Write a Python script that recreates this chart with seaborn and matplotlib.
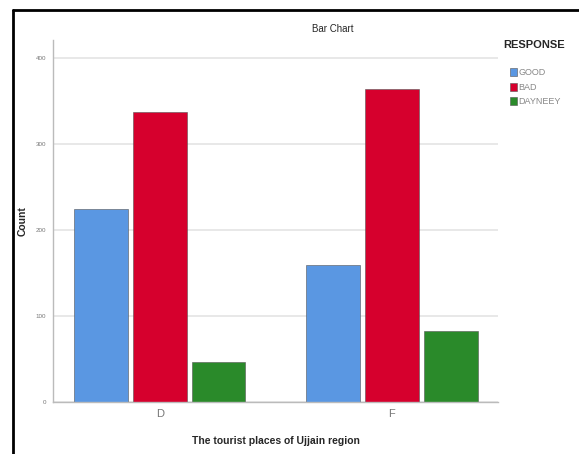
import numpy as np
import pandas as pd
import matplotlib.pyplot as plt
import seaborn as sns
from matplotlib.patches import Patch
from matplotlib.lines import Line2D

# ========================
# Data
# ========================
places = ["D", "F"]
responses = ["GOOD", "BAD", "DAYNEEY"]
good_counts = [224, 159]
bad_counts = [337, 364]
dayneey_counts = [46, 83]
y_ticks = [0, 100, 200, 300, 400]

colors = ["#5A97E2", "#D6002D", "#2A8A2A"]

df = pd.DataFrame({
    "place": places * 3,
    "RESPONSE": [r for r in responses for _ in places],
    "count": good_counts + bad_counts + dayneey_counts,
})

sns.set_theme(style="white")
plt.rcParams["font.family"] = ["Liberation Sans", "DejaVu Sans"]

fig = plt.figure(figsize=(5.79, 4.54), dpi=100)
ax = fig.add_axes([0.0915, 0.1145, 0.7685, 0.7975])

sns.barplot(data=df, x="place", y="count", hue="RESPONSE", order=places,
            hue_order=responses, palette=colors, saturation=1, width=0.76,
            gap=0.085, edgecolor="#555555", linewidth=0.4, legend=False, ax=ax)

ax.set_ylim(0, 421)
ax.set_xlim(-0.46, 1.457)
ax.set_yticks(y_ticks)
ax.set_yticklabels([str(t) for t in y_ticks], fontsize=4.5, color="#777777")
ax.tick_params(axis="y", length=3, width=0.6, color="#bbbbbb", pad=2)
ax.tick_params(axis="x", length=0, labelsize=8, labelcolor="#777777", pad=5)
ax.yaxis.grid(True, color="#e2e2e2", linewidth=1.1)
ax.set_axisbelow(True)
for side in ["top", "right"]:
    ax.spines[side].set_visible(False)
for side in ["left", "bottom"]:
    ax.spines[side].set_color("#bbbbbb")
    ax.spines[side].set_linewidth(1.0)

ax.set_xlabel("The tourist places of Ujjain region", fontsize=7.5,
              fontweight="bold", labelpad=12)
ax.set_ylabel("Count", fontsize=7.5, fontweight="bold", labelpad=6)

fig.text(333 / 579, 1 - 29 / 454, "Bar Chart", ha="center", va="center",
         fontsize=7)

# Legend (title placed separately so the entries sit indented under it)
fig.text(503 / 579, 1 - 45 / 454, "RESPONSE", ha="left", va="center",
         fontsize=8, fontweight="bold")
handles = [Patch(facecolor=c, edgecolor="#555555", linewidth=0.4) for c in colors]
leg = fig.legend(handles, responses, loc="upper left",
                 bbox_to_anchor=(510 / 579, 1 - 68 / 454), frameon=False,
                 fontsize=6.5, handlelength=0.8, handleheight=1.0,
                 handletextpad=0.15, labelspacing=0.6,
                 borderaxespad=0, borderpad=0)
for t in leg.get_texts():
    t.set_color("#888888")

# Black frame around the chart area
fig.add_artist(Line2D([13 / 579, 13 / 579], [0, 1 - 10 / 454],
                      transform=fig.transFigure, color="black", linewidth=2))
fig.add_artist(Line2D([13 / 579, 1], [1 - 10 / 454, 1 - 10 / 454],
                      transform=fig.transFigure, color="black", linewidth=2))

fig.savefig("out.png", dpi=100)
